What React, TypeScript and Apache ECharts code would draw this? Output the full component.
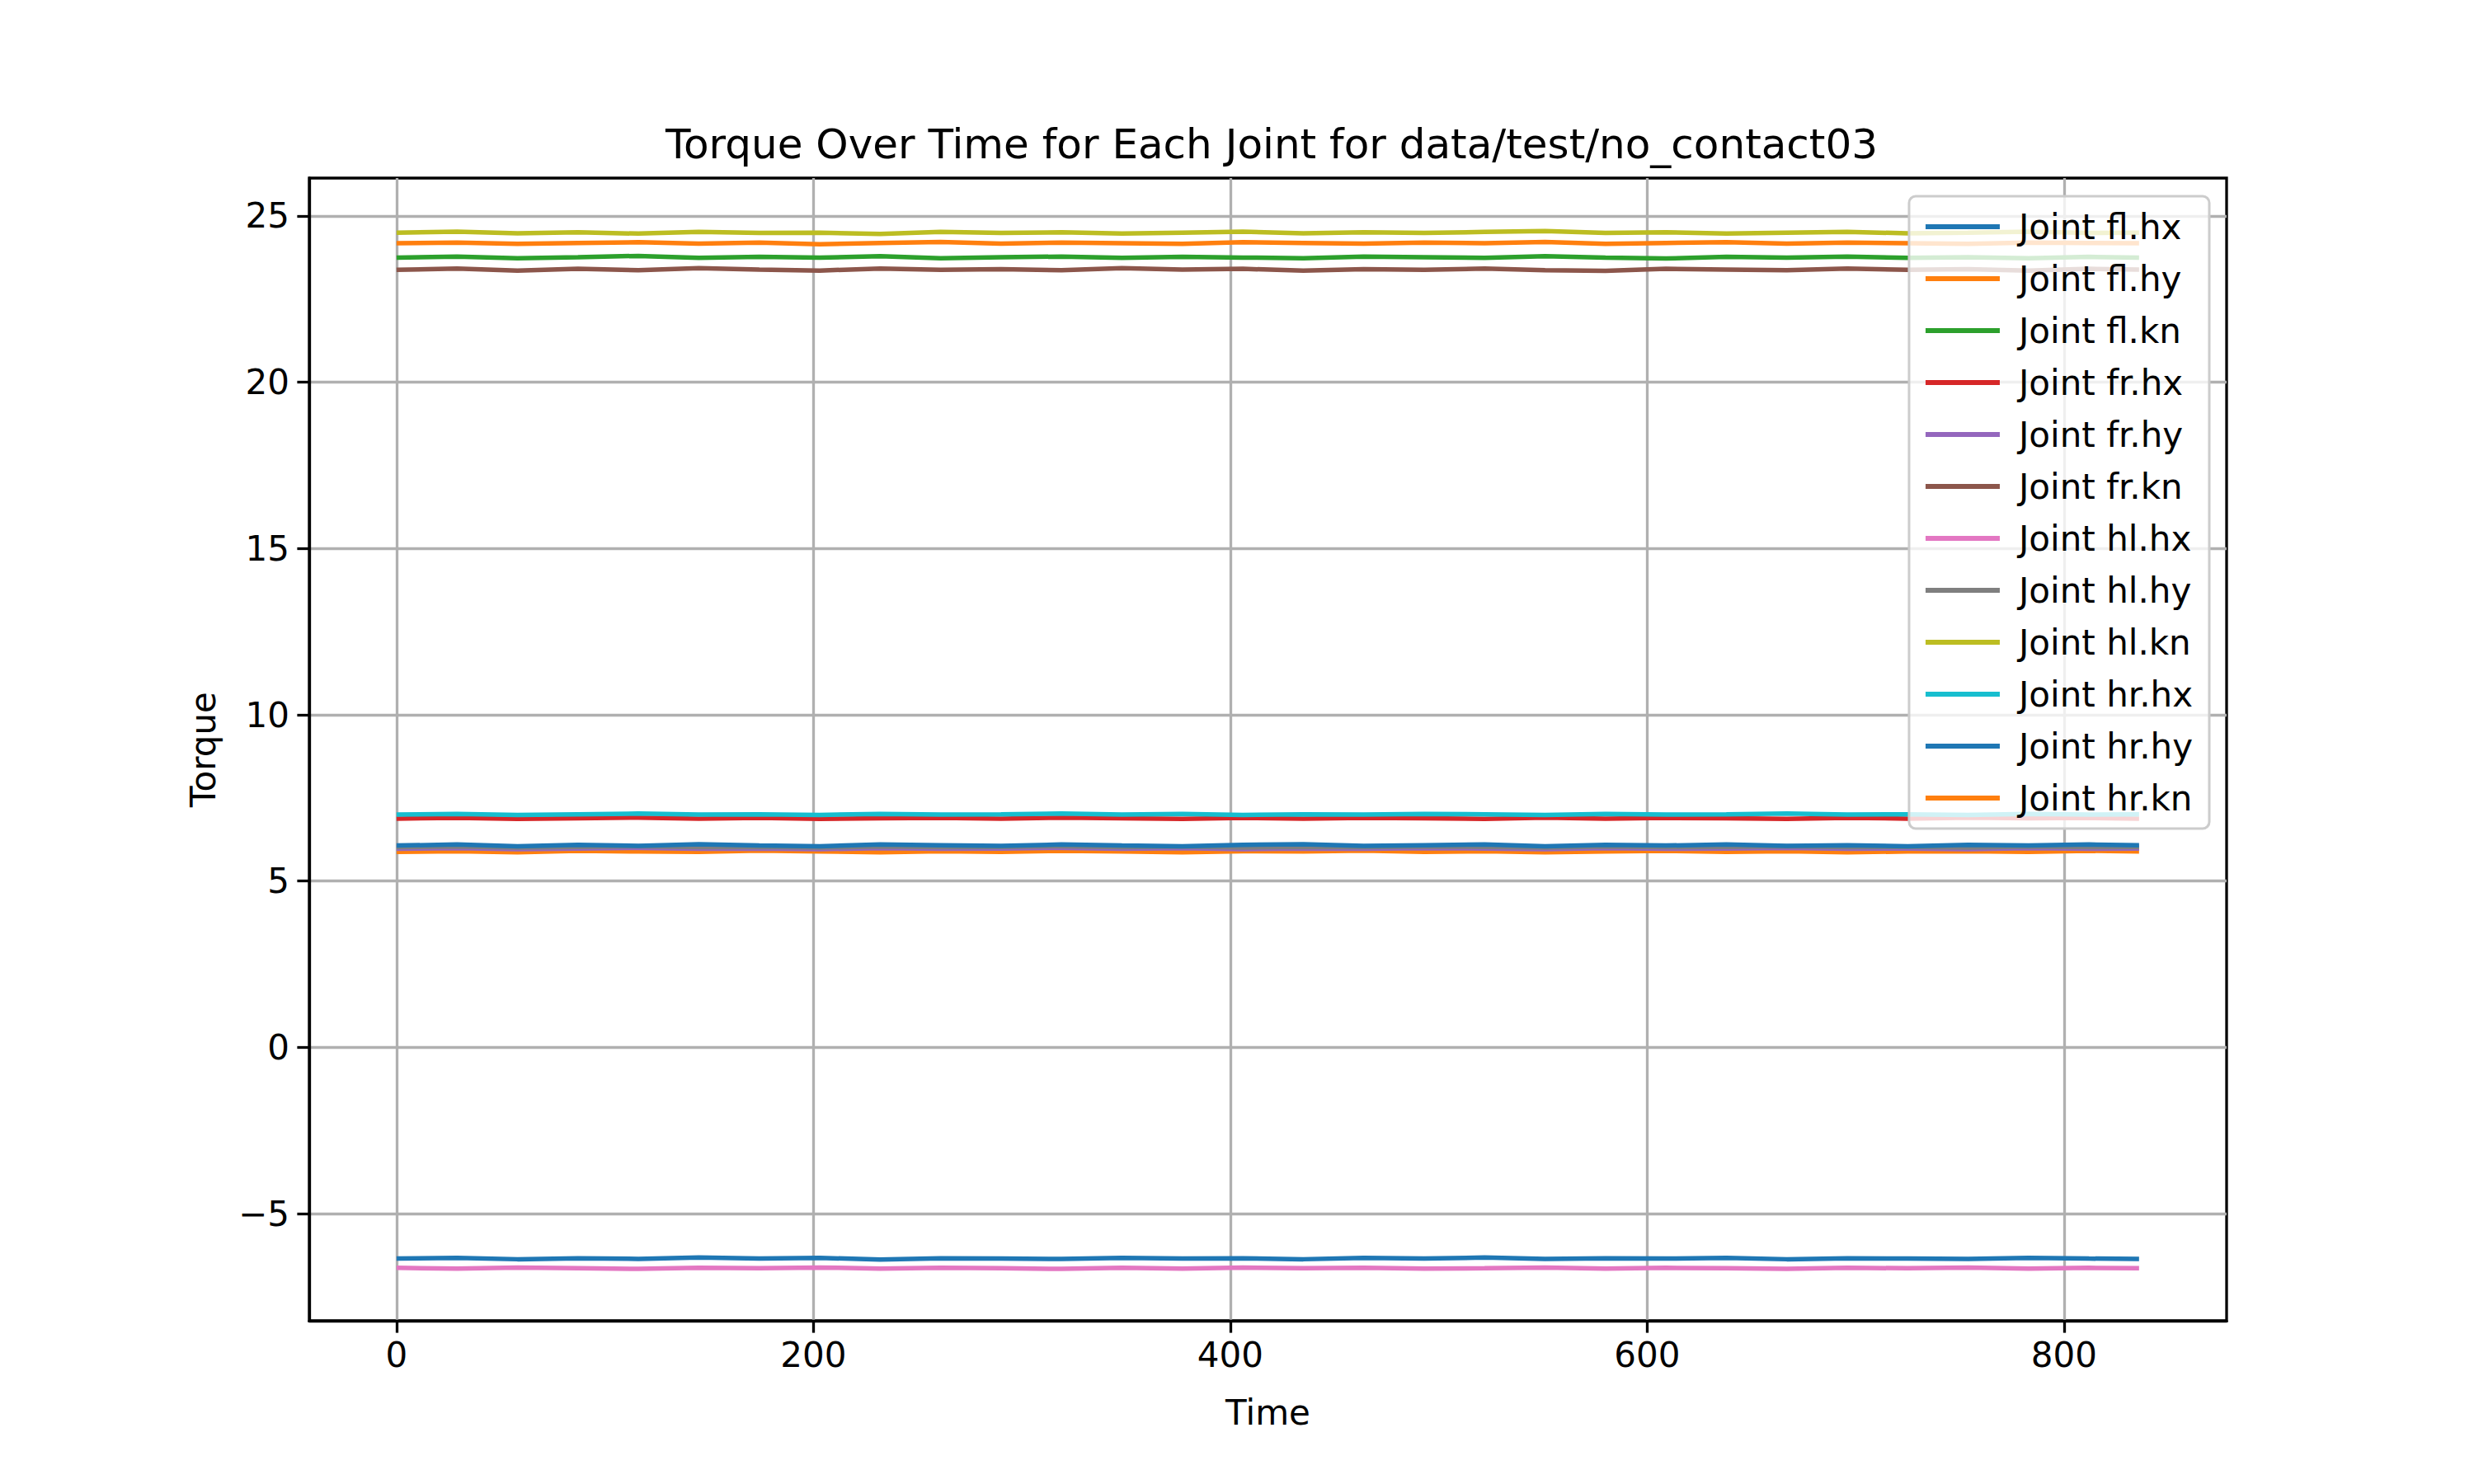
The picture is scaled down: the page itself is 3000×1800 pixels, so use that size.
import React, { useEffect, useRef } from "react";
import * as echarts from "echarts";

const times = [0, 29, 58, 87, 116, 145, 174, 203, 232, 261, 290, 319, 348, 377, 406, 435, 464, 493, 522, 551, 580, 609, 638, 667, 696, 725, 754, 783, 812, 836];
const names = ["Joint fl.hx", "Joint fl.hy", "Joint fl.kn", "Joint fr.hx", "Joint fr.hy", "Joint fr.kn", "Joint hl.hx", "Joint hl.hy", "Joint hl.kn", "Joint hr.hx", "Joint hr.hy", "Joint hr.kn"];
const colors = ["#1f77b4", "#ff7f0e", "#2ca02c", "#d62728", "#9467bd", "#8c564b", "#e377c2", "#7f7f7f", "#bcbd22", "#17becf", "#1f77b4", "#ff7f0e"];
const flHx = [-6.35, -6.33, -6.37, -6.34, -6.36, -6.32, -6.35, -6.33, -6.38, -6.34, -6.35, -6.36, -6.33, -6.35, -6.34, -6.37, -6.33, -6.35, -6.32, -6.36, -6.34, -6.35, -6.33, -6.37, -6.34, -6.35, -6.36, -6.33, -6.35, -6.36];
const flHy = [5.88, 5.9, 5.87, 5.91, 5.89, 5.88, 5.92, 5.89, 5.87, 5.9, 5.88, 5.91, 5.89, 5.87, 5.9, 5.89, 5.92, 5.88, 5.9, 5.87, 5.89, 5.91, 5.88, 5.9, 5.87, 5.89, 5.9, 5.88, 5.91, 5.89];
const flKn = [23.75, 23.78, 23.73, 23.76, 23.8, 23.74, 23.77, 23.75, 23.79, 23.73, 23.76, 23.78, 23.74, 23.77, 23.75, 23.73, 23.78, 23.76, 23.74, 23.79, 23.75, 23.72, 23.77, 23.75, 23.78, 23.74, 23.76, 23.73, 23.77, 23.75];
const frHx = [6.88, 6.9, 6.87, 6.89, 6.91, 6.88, 6.9, 6.87, 6.89, 6.9, 6.88, 6.91, 6.89, 6.87, 6.9, 6.88, 6.9, 6.89, 6.87, 6.91, 6.88, 6.9, 6.89, 6.87, 6.9, 6.88, 6.91, 6.89, 6.9, 6.88];
const frHy = [5.97, 5.99, 5.96, 5.98, 6.0, 5.97, 5.98, 5.96, 5.99, 5.97, 5.98, 6.0, 5.97, 5.99, 5.96, 5.98, 5.97, 5.99, 5.98, 5.96, 5.99, 5.97, 5.98, 6.0, 5.97, 5.98, 5.96, 5.99, 5.97, 5.98];
const frKn = [23.38, 23.42, 23.36, 23.41, 23.37, 23.43, 23.39, 23.36, 23.42, 23.38, 23.4, 23.37, 23.43, 23.39, 23.41, 23.36, 23.4, 23.38, 23.42, 23.37, 23.35, 23.41, 23.39, 23.37, 23.42, 23.38, 23.4, 23.36, 23.41, 23.39];
const hlHx = [-6.63, -6.65, -6.62, -6.64, -6.66, -6.63, -6.64, -6.62, -6.65, -6.63, -6.64, -6.66, -6.63, -6.65, -6.62, -6.64, -6.63, -6.65, -6.64, -6.62, -6.65, -6.63, -6.64, -6.66, -6.63, -6.64, -6.62, -6.65, -6.63, -6.64];
const hlHy = [6.02, 6.04, 6.01, 6.03, 6.05, 6.02, 6.03, 6.01, 6.04, 6.02, 6.03, 6.05, 6.02, 6.04, 6.01, 6.03, 6.02, 6.04, 6.03, 6.01, 6.04, 6.02, 6.03, 6.05, 6.02, 6.03, 6.01, 6.04, 6.02, 6.03];
const hlKn = [24.5, 24.53, 24.48, 24.51, 24.47, 24.52, 24.49, 24.5, 24.46, 24.52, 24.49, 24.51, 24.47, 24.5, 24.53, 24.48, 24.51, 24.49, 24.52, 24.55, 24.49, 24.51, 24.47, 24.5, 24.52, 24.48, 24.5, 24.53, 24.49, 24.5];
const hrHx = [7.0, 7.02, 6.99, 7.01, 7.03, 7.0, 7.01, 6.99, 7.02, 7.0, 7.01, 7.03, 7.0, 7.02, 6.99, 7.01, 7.0, 7.02, 7.01, 6.99, 7.02, 7.0, 7.01, 7.03, 7.0, 7.01, 6.99, 7.02, 7.0, 7.01];
const hrHy = [6.07, 6.1, 6.05, 6.09, 6.06, 6.11, 6.07, 6.05, 6.1, 6.08, 6.06, 6.1, 6.07, 6.05, 6.09, 6.11, 6.06, 6.08, 6.1, 6.05, 6.09, 6.07, 6.1, 6.06, 6.08, 6.05, 6.09, 6.07, 6.1, 6.08];
const hrKn = [24.18, 24.2, 24.16, 24.19, 24.21, 24.17, 24.2, 24.15, 24.19, 24.22, 24.17, 24.2, 24.18, 24.16, 24.21, 24.19, 24.17, 24.2, 24.18, 24.22, 24.16, 24.19, 24.21, 24.17, 24.2, 24.18, 24.16, 24.2, 24.19, 24.18];
const seriesValues = [flHx, flHy, flKn, frHx, frHy, frKn, hlHx, hlHy, hlKn, hrHx, hrHy, hrKn];
const xTicks = [0, 200, 400, 600, 800];
const yTicks = [-5, 0, 5, 10, 15, 20, 25];

const FONT = "DejaVu Sans";
const fmt = (v: number) => String(v).replace("-", "\u2212");

export default function App() {
  const ref = useRef<HTMLDivElement>(null);
  useEffect(() => {
    document.body.style.margin = "0";
    const chart = echarts.init(ref.current!, null, { renderer: "svg" });
    const axisCommon = {
      axisLine: { show: true, onZero: false, lineStyle: { color: "#000", width: 3.3 } },
      axisTick: { show: true, length: 14.6, lineStyle: { color: "#000", width: 3.3 } },
      splitLine: { show: true, lineStyle: { color: "#b0b0b0", width: 3.3 } },
      nameTextStyle: { fontFamily: FONT, fontSize: 42, color: "#000" },
    };
    chart.setOption({
      animation: false,
      backgroundColor: "#fff",
      title: {
        text: "Torque Over Time for Each Joint for data/test/no_contact03",
        left: 1537,
        textAlign: "center",
        top: 145,
        textStyle: { fontFamily: FONT, fontSize: 50, fontWeight: "normal", color: "#000" },
      },
      grid: { left: 375, right: 300, top: 216, bottom: 198, show: true, borderColor: "#000", borderWidth: 3.3, backgroundColor: "transparent" },
      xAxis: {
        type: "value",
        min: -41.9,
        max: 878,
        name: "Time",
        nameLocation: "middle",
        nameGap: 90,
        ...axisCommon,
        axisTick: { ...axisCommon.axisTick, customValues: xTicks },
        axisLabel: { customValues: xTicks, margin: 20, fontFamily: FONT, fontSize: 42, color: "#000", formatter: fmt },
      },
      yAxis: {
        type: "value",
        min: -8.22,
        max: 26.14,
        name: "Torque",
        nameLocation: "middle",
        nameGap: 108,
        ...axisCommon,
        axisTick: { ...axisCommon.axisTick, customValues: yTicks },
        axisLabel: { customValues: yTicks, margin: 24, fontFamily: FONT, fontSize: 42, color: "#000", formatter: fmt },
      },
      legend: {
        orient: "vertical",
        right: 321,
        top: 238,
        data: names,
        icon: "rect",
        itemWidth: 90,
        itemHeight: 6,
        itemGap: 21,
        padding: [16, 20, 16, 20],
        backgroundColor: "rgba(255,255,255,0.8)",
        borderColor: "#cccccc",
        borderWidth: 3,
        borderRadius: 8,
        textStyle: { fontFamily: FONT, fontSize: 42, color: "#000", padding: [0, 0, 0, 18] },
        z: 10,
      },
      series: names.map((n, i) => ({
        name: n,
        type: "line",
        data: times.map((t, j) => [t, seriesValues[i][j]]),
        showSymbol: false,
        lineStyle: { color: colors[i], width: 5.5 },
        itemStyle: { color: colors[i] },
        z: 2,
      })),
    });
    return () => chart.dispose();
  }, []);
  return <div ref={ref} style={{ width: 3000, height: 1800 }} />;
}
